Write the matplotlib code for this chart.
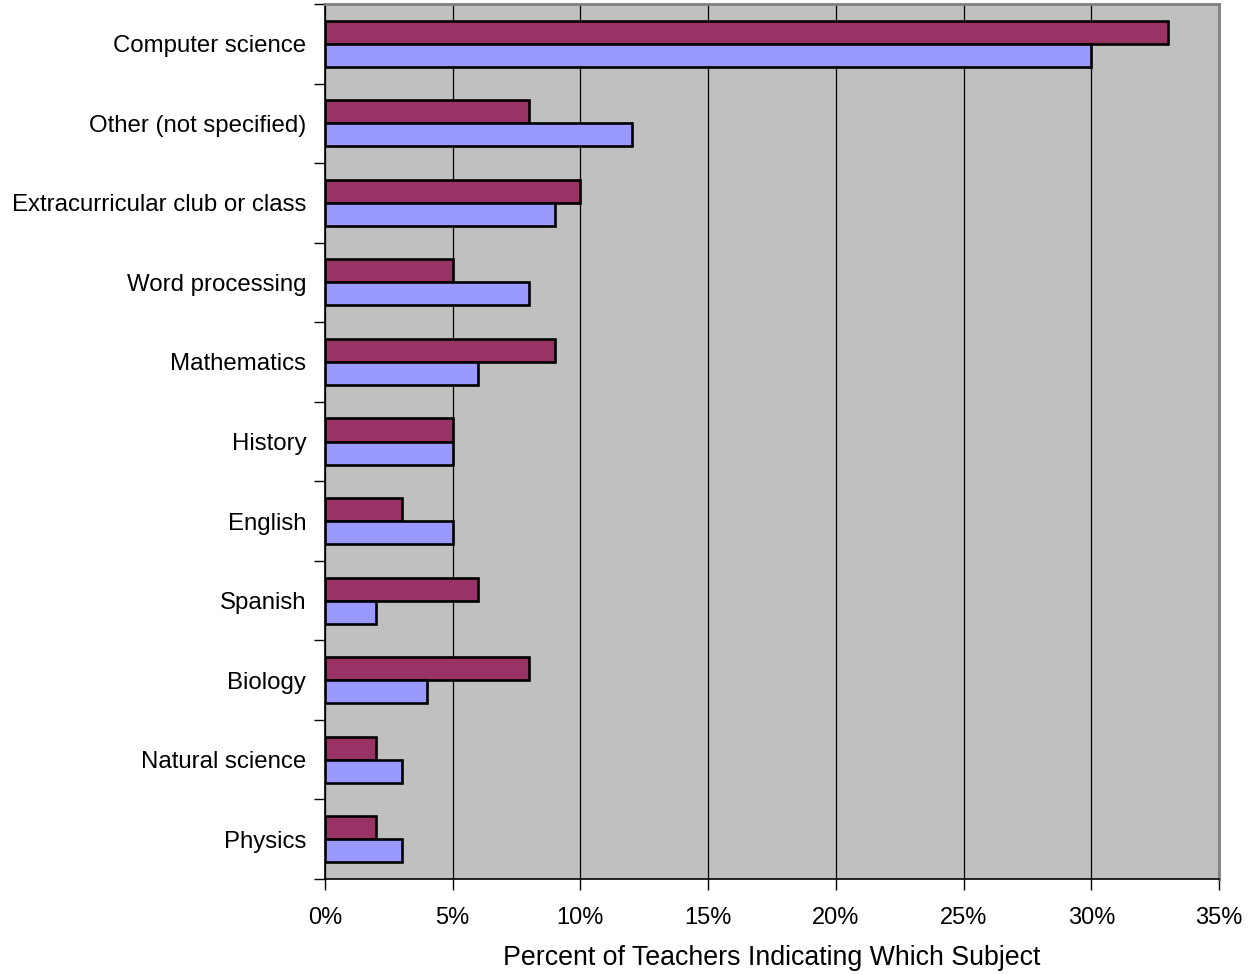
import matplotlib
matplotlib.use("Agg")
import matplotlib.pyplot as plt
import numpy as np

subjects = ["Computer science", "Other (not specified)", "Extracurricular club or class",
            "Word processing", "Mathematics", "History", "English", "Spanish",
            "Biology", "Natural science", "Physics"]
series_a = [33, 8, 10, 5, 9, 5, 3, 6, 8, 2, 2]   # maroon bars
series_b = [30, 12, 9, 8, 6, 5, 5, 2, 4, 3, 3]   # periwinkle bars
x_ticks = [0, 5, 10, 15, 20, 25, 30, 35]

plt.rcParams['font.family'] = ['Liberation Sans', 'DejaVu Sans']

fig = plt.figure(figsize=(12.57, 9.74), dpi=100)
ax = fig.add_axes([325/1257, 1 - 879/974, (1219-325)/1257, (879-4)/974])
ax.set_facecolor("#C0C0C0")

n = len(subjects)
y = np.arange(n)
h = 0.29
ax.barh(y - h/2, series_a, height=h, color="#993366", edgecolor="black", linewidth=1.9, zorder=3)
ax.barh(y + h/2, series_b, height=h, color="#9999FF", edgecolor="black", linewidth=1.9, zorder=3)

ax.set_xlim(0, 35)
ax.set_ylim(n - 0.5, -0.5)
ax.set_xticks(x_ticks)
ax.set_xticklabels([f"{t}%" for t in x_ticks], fontsize=17)
ax.xaxis.grid(True, color="black", linewidth=0.9, zorder=1)
ax.set_axisbelow(True)

ax.set_yticks(np.arange(-0.5, n, 1.0))
ax.set_yticklabels([])
ax.set_yticks(y, minor=True)
ax.set_yticklabels(subjects, minor=True, fontsize=17.3)
ax.tick_params(axis='y', which='minor', length=0, pad=13.5)
ax.tick_params(axis='y', which='major', length=8, width=1, direction='out')
ax.tick_params(axis='x', length=8, width=1, direction='out', pad=12)

for side in ["top", "right"]:
    ax.spines[side].set_color("#808080")
    ax.spines[side].set_linewidth(2)
for side in ["left", "bottom"]:
    ax.spines[side].set_color("black")
    ax.spines[side].set_linewidth(1.2)

ax.set_xlabel("Percent of Teachers Indicating Which Subject", fontsize=19.3, labelpad=12)

fig.savefig("out.png", dpi=100)
